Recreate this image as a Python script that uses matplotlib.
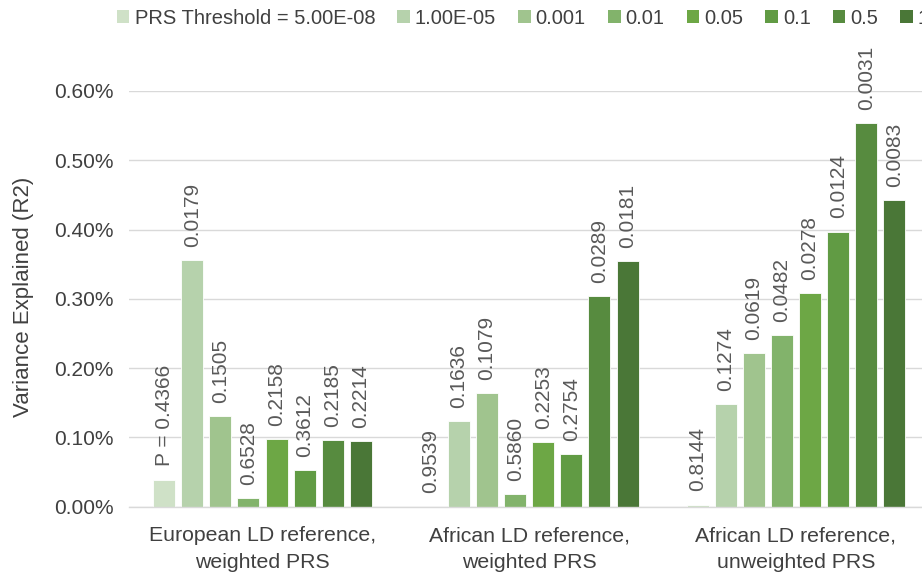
import matplotlib

matplotlib.use("Agg")
import matplotlib.pyplot as plt  # noqa: E402
from matplotlib.patches import Patch  # noqa: E402
from matplotlib.ticker import FuncFormatter  # noqa: E402

plt.rcParams["font.family"] = ["Liberation Sans", "DejaVu Sans"]

# groups on the x axis
groups = ["European LD reference,\nweighted PRS",
          "African LD reference,\nweighted PRS",
          "African LD reference,\nunweighted PRS"]
thresholds = ["PRS Threshold = 5.00E-08", "1.00E-05", "0.001", "0.01",
              "0.05", "0.1", "0.5", "1"]

# variance explained, in percent, one list per group (one value per threshold)
eur_weighted = [0.039, 0.356, 0.131, 0.0125, 0.097, 0.053, 0.096, 0.095]
afr_weighted = [0.0, 0.123, 0.164, 0.018, 0.093, 0.0755, 0.304, 0.354]
afr_unweighted = [0.003, 0.148, 0.222, 0.248, 0.308, 0.397, 0.554, 0.442]

# p-values printed above each bar
eur_weighted_p = ["0.4366", "0.0179", "0.1505", "0.6528", "0.2158", "0.3612", "0.2185", "0.2214"]
afr_weighted_p = ["0.9539", "0.1636", "0.1079", "0.5860", "0.2253", "0.2754", "0.0289", "0.0181"]
afr_unweighted_p = ["0.8144", "0.1274", "0.0619", "0.0482", "0.0278", "0.0124", "0.0031", "0.0083"]

colors = ["#cfe1c7", "#b6d2ac", "#a0c48e", "#82b36b",
          "#6da745", "#619b44", "#578b3f", "#4a7737"]

values = [eur_weighted, afr_weighted, afr_unweighted]
pvals = [eur_weighted_p, afr_weighted_p, afr_unweighted_p]

fig = plt.figure(figsize=(9.22, 5.74), dpi=100)
# plot area runs past the right edge, as in the (cropped) original
ax = fig.add_axes([0.140, 0.1173, 0.868, 0.7242])

pitch, width = 0.1053, 0.0825
for i, thr in enumerate(thresholds):
    xs = [g + (i - 3.5) * pitch for g in range(len(groups))]
    hs = [v[i] for v in values]
    ax.bar(xs, hs, width=width, color=colors[i], edgecolor="white",
           linewidth=0.6, zorder=2)
    for g, (x, h) in enumerate(zip(xs, hs)):
        lab = pvals[g][i]
        if g == 0 and i == 0:
            lab = "P = " + lab
        ax.annotate(lab, (x, h), xytext=(0, 9.5), textcoords="offset points",
                    rotation=90, ha="center", va="bottom", fontsize=15,
                    color="#595959", annotation_clip=False)

ax.set_xlim(-0.5, 2.5)
ax.set_ylim(0, 0.6)
ax.set_yticks([0, 0.1, 0.2, 0.3, 0.4, 0.5, 0.6])
ax.yaxis.set_major_formatter(FuncFormatter(lambda v, _: f"{v:.2f}%"))
ax.set_xticks(range(len(groups)))
ax.set_xticklabels(groups, fontsize=15.3, color="#404040", linespacing=1.5)
ax.tick_params(axis="y", length=0, pad=11, labelsize=15, labelcolor="#404040")
ax.tick_params(axis="x", length=0, pad=14)
ax.grid(axis="y", color="#d9d9d9", linewidth=1.0, zorder=0)
for side in ("top", "right", "left"):
    ax.spines[side].set_visible(False)
ax.spines["bottom"].set_color("#d9d9d9")
ax.spines["bottom"].set_linewidth(1.0)

fig.text(23 / 922, 1 - 297 / 574, "Variance Explained (R2)", rotation=90,
         ha="center", va="center", fontsize=16, color="#404040")

handles = [Patch(facecolor=c, edgecolor="none") for c in colors]
fig.legend(handles, thresholds, loc="center left",
           bbox_to_anchor=(117 / 922, 1 - 18 / 574), ncol=len(thresholds),
           frameon=False, fontsize=14.5, handlelength=0.62, handleheight=0.62,
           handletextpad=0.25, columnspacing=1.1, borderpad=0,
           borderaxespad=0, labelcolor="#404040")

fig.savefig("out.png", dpi=100)
